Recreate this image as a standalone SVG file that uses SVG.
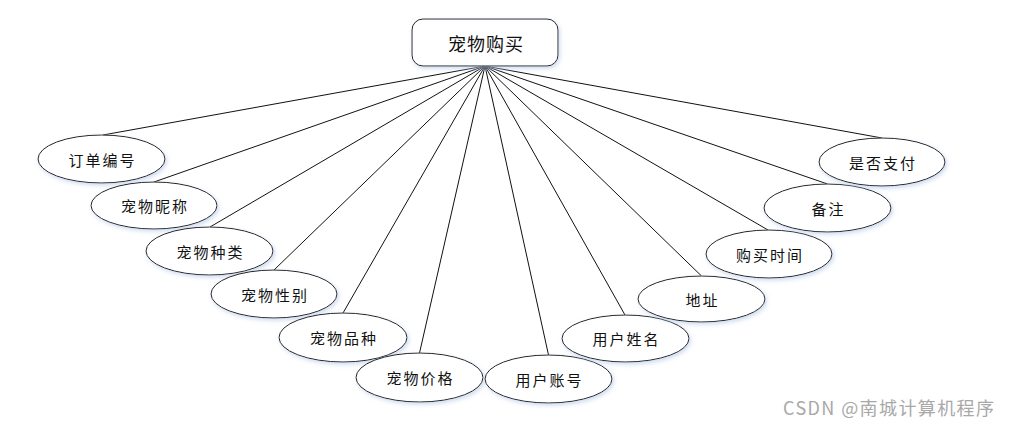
<svg xmlns="http://www.w3.org/2000/svg" width="1009" height="426" viewBox="0 0 1009 426">
<defs>
<filter id="sh" x="-20%" y="-30%" width="140%" height="160%">
<feDropShadow dx="1.5" dy="2" stdDeviation="2" flood-color="#b8cbe8" flood-opacity="0.7"/>
</filter>
<style>
.e{fill:#fff;stroke:#222;stroke-width:1;filter:url(#sh)}
.t{font-family:"Noto Sans CJK SC","Noto Sans",sans-serif;font-size:15px;fill:#111;text-anchor:middle;dominant-baseline:central;letter-spacing:2px}
.c line{stroke:#111;stroke-width:1}
</style>
</defs>
<rect width="1009" height="426" fill="#fff"/>
<g class="c" id="connectors">
<line x1="485" y1="66" x2="103" y2="135"/>
<line x1="485" y1="66" x2="154" y2="182"/>
<line x1="485" y1="66" x2="210" y2="227"/>
<line x1="485" y1="66" x2="274" y2="270"/>
<line x1="485" y1="66" x2="343" y2="313"/>
<line x1="485" y1="66" x2="419.5" y2="353"/>
<line x1="485" y1="66" x2="548.5" y2="355"/>
<line x1="485" y1="66" x2="625" y2="315"/>
<line x1="485" y1="66" x2="701.5" y2="276"/>
<line x1="485" y1="66" x2="768" y2="230"/>
<line x1="485" y1="66" x2="827.5" y2="184"/>
<line x1="485" y1="66" x2="882" y2="138"/>
</g>
<g id="root"><rect x="412" y="19" width="146" height="47" rx="11" class="e"/><text x="486" y="43" class="t" style="font-size:18px;letter-spacing:1px">宠物购买</text></g>
<g id="n1"><ellipse cx="101.5" cy="159" rx="63.5" ry="24" class="e"/><text x="102.5" y="159" class="t">订单编号</text></g>
<g id="n2"><ellipse cx="154" cy="205.5" rx="63" ry="23.5" class="e"/><text x="155" y="205.5" class="t">宠物昵称</text></g>
<g id="n3"><ellipse cx="209.5" cy="251" rx="63.5" ry="24" class="e"/><text x="210.5" y="251" class="t">宠物种类</text></g>
<g id="n4"><ellipse cx="274" cy="294" rx="63" ry="24" class="e"/><text x="275" y="294" class="t">宠物性别</text></g>
<g id="n5"><ellipse cx="343" cy="337.5" rx="64" ry="24.5" class="e"/><text x="344" y="337.5" class="t">宠物品种</text></g>
<g id="n6"><ellipse cx="419.5" cy="377.5" rx="63.5" ry="24.5" class="e"/><text x="420.5" y="377.5" class="t">宠物价格</text></g>
<g id="n7"><ellipse cx="548.5" cy="379" rx="63.5" ry="24" class="e"/><text x="549.5" y="379" class="t">用户账号</text></g>
<g id="n8"><ellipse cx="625.5" cy="338.5" rx="63.5" ry="23.5" class="e"/><text x="626.5" y="338.5" class="t">用户姓名</text></g>
<g id="n9"><ellipse cx="701.5" cy="299" rx="63.5" ry="23" class="e"/><text x="702.5" y="299" class="t">地址</text></g>
<g id="n10"><ellipse cx="769" cy="254" rx="63" ry="24" class="e"/><text x="770" y="254" class="t">购买时间</text></g>
<g id="n11"><ellipse cx="827.5" cy="208" rx="63.5" ry="24" class="e"/><text x="828.5" y="208" class="t">备注</text></g>
<g id="n12"><ellipse cx="882" cy="162" rx="63" ry="24" class="e"/><text x="883" y="162" class="t">是否支付</text></g>
<text x="783" y="407" textLength="211" lengthAdjust="spacing" style="font-family:'Noto Sans CJK SC','Noto Sans',sans-serif;font-size:18px;fill:#a8a8a8;dominant-baseline:central">CSDN @南城计算机程序</text>
</svg>
